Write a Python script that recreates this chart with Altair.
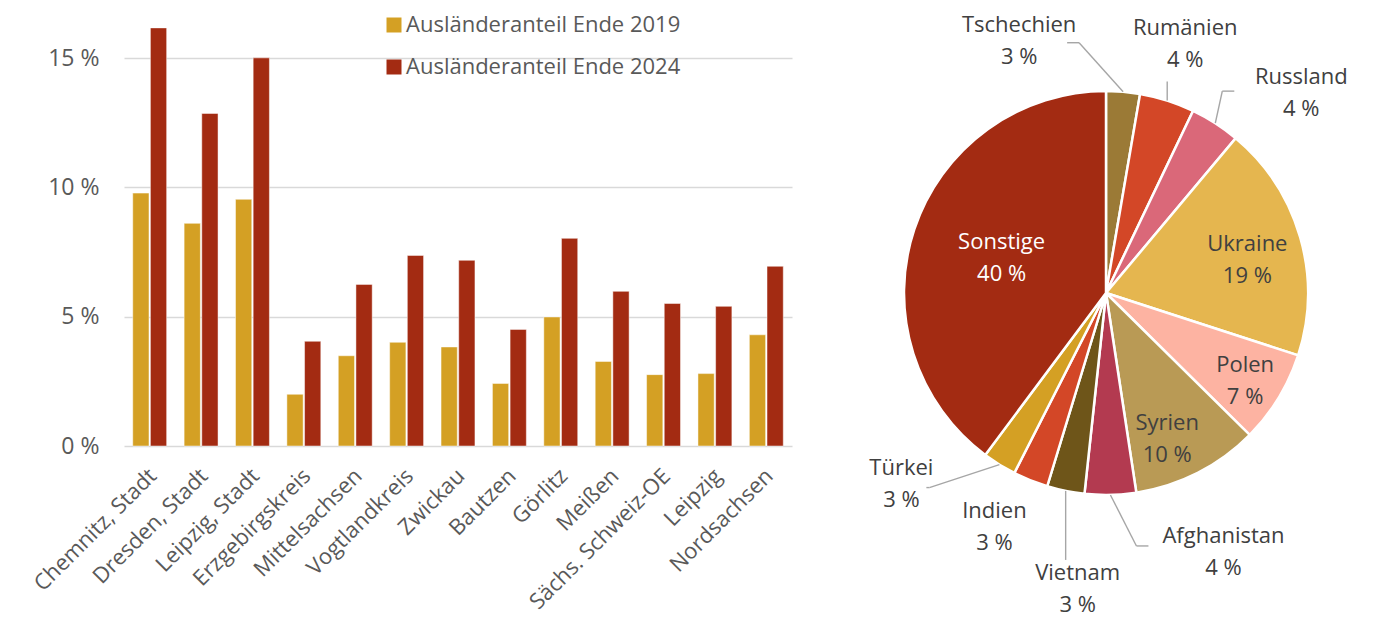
import altair as alt
import pandas as pd

# ---------------- data ----------------
kreise = ["Chemnitz, Stadt", "Dresden, Stadt", "Leipzig, Stadt", "Erzgebirgskreis",
          "Mittelsachsen", "Vogtlandkreis", "Zwickau", "Bautzen", "Görlitz", "Meißen",
          "Sächs. Schweiz-OE", "Leipzig", "Nordsachsen"]
anteil_2019 = [9.78, 8.61, 9.54, 2.0, 3.49, 4.01, 3.83, 2.42, 4.99, 3.27, 2.76, 2.80, 4.30]
anteil_2024 = [16.17, 12.86, 15.01, 4.05, 6.25, 7.37, 7.18, 4.51, 8.03, 5.98, 5.51, 5.40, 6.95]
serien = ["Ausländeranteil Ende 2019", "Ausländeranteil Ende 2024"]
serien_farben = ["#D4A024", "#A32B12"]
y_ticks = [0, 5, 10, 15]

laender = ["Tschechien", "Rumänien", "Russland", "Ukraine", "Polen", "Syrien",
           "Afghanistan", "Vietnam", "Indien", "Türkei", "Sonstige"]
anteile = [2.7, 4.4, 4.0, 18.9, 7.4, 10.2, 4.1, 3.0, 2.8, 2.7, 39.8]
laender_farben = ["#9B7A36", "#D34727", "#DA6879", "#E5B64F", "#FDB3A2", "#B99A55",
                  "#B33A50", "#6E5519", "#D34727", "#D4A024", "#A32B12"]

# ---------------- style / layout ----------------
FONT = "Open Sans"
GREY = "#595959"
DARK = "#404040"
LEAD = "#A6A6A6"

PIE_R = 202
CX, CY = 294, 284
LINE_H = 32
TOP_SHIFT = -11  # moving from a middle to a top text baseline

# label placement for the pie (layout only): r = radius of anchor, dx/dy nudges of the
# first text line, lead = leader-line points relative to the slice edge point
LABELS = {
    "Tschechien": dict(r=PIE_R, dx=-104, dy=-66, lead=[(-44, -49), (-56, -49)], color=DARK),
    "Rumänien": dict(r=PIE_R, dx=18, dy=-71, lead=[(0, -19)], color=DARK),
    "Russland": dict(r=PIE_R, dx=86, dy=-45, lead=[(7, -32), (19, -32)], color=DARK),
    "Ukraine": dict(r=145, dx=2, dy=-8, lead=[], color=DARK),
    "Polen": dict(r=164, dx=-1, dy=-12, lead=[], color=DARK),
    "Syrien": dict(r=159, dx=-11, dy=-11, lead=[], color=DARK),
    "Afghanistan": dict(r=PIE_R, dx=113, dy=42, lead=[(26, 51), (38, 51)], color=DARK),
    "Vietnam": dict(r=PIE_R, dx=12, dy=83, lead=[(0, 69)], color=DARK),
    "Indien": dict(r=PIE_R, dx=-36, dy=32, lead=[], color=DARK),
    "Türkei": dict(r=PIE_R, dx=-98, dy=4, lead=[(-70, 23), (-73, 23)], color=DARK),
    "Sonstige": dict(r=110, dx=0, dy=-15, lead=[], color="white"),
}

# ---------------- bar chart ----------------
bar_df = pd.DataFrame({
    "kreis": kreise * 2,
    "serie": [serien[0]] * len(kreise) + [serien[1]] * len(kreise),
    "wert": anteil_2019 + anteil_2024,
})

bars = alt.Chart(bar_df).mark_bar(stroke="white", strokeWidth=0.8, strokeOpacity=0.6).encode(
    x=alt.X("kreis:N", sort=kreise,
            scale=alt.Scale(paddingInner=0.34, paddingOuter=0.17),
            axis=alt.Axis(title=None, labelAngle=-45, labelAlign="right", labelBaseline="top",
                          labelFont=FONT, labelFontSize=22, labelColor=GREY,
                          ticks=False, domain=False, labelPadding=19, labelOffset=-4,
                          labelLimit=400)),
    xOffset=alt.XOffset("serie:N", sort=serien, scale=alt.Scale(paddingInner=0.08)),
    y=alt.Y("wert:Q", scale=alt.Scale(domain=[0, 16.9], nice=False),
            axis=alt.Axis(title=None, values=y_ticks, labelExpr="datum.value + ' %'",
                          grid=True, gridColor="#D9D9D9", gridWidth=1.5,
                          domain=False, ticks=False, labelFont=FONT, labelFontSize=23,
                          labelColor=GREY, labelPadding=25)),
    color=alt.Color("serie:N", sort=serien,
                    scale=alt.Scale(domain=serien, range=serien_farben),
                    legend=alt.Legend(title=None, orient="none", legendX=259, legendY=5,
                                      symbolType="square", symbolSize=225, symbolStrokeWidth=0,
                                      labelFont=FONT, labelFontSize=22, labelColor=GREY,
                                      rowPadding=20, labelOffset=1, labelLimit=400)),
).properties(width=668, height=437)

# ---------------- pie chart ----------------
pie_df = pd.DataFrame({"land": laender, "anteil": anteile, "order": list(range(len(laender)))})

base = (
    alt.Chart(pie_df)
    .transform_window(cum="sum(anteil)", sort=[alt.SortField("order")], frame=[None, 0])
    .transform_joinaggregate(total="sum(anteil)")
    .transform_calculate(a0="(datum.cum - datum.anteil) / datum.total * 2 * PI")
    .transform_calculate(a1="datum.cum / datum.total * 2 * PI")
    .transform_calculate(amid="(datum.a0 + datum.a1) / 2")
    .transform_calculate(label="datum.land + '\\n' + format(datum.anteil, '.0f') + ' %'")
    .transform_calculate(ex=f"{CX} + {PIE_R} * sin(datum.amid)")
    .transform_calculate(ey=f"{CY} - {PIE_R} * cos(datum.amid)")
)

arcs = base.mark_arc(radius=PIE_R, stroke="white", strokeWidth=2.5).encode(
    x=alt.value(CX), y=alt.value(CY),
    theta=alt.Theta("a0:Q", scale=None),
    theta2=alt.Theta2("a1"),
    color=alt.Color("land:N", scale=alt.Scale(domain=laender, range=laender_farben), legend=None),
)

layers = [arcs]
for name, cfg in LABELS.items():
    pts = [(0, 0)] + cfg["lead"]
    for (p0x, p0y), (p1x, p1y) in zip(pts[:-1], pts[1:]):
        seg = (
            base.transform_filter(alt.datum.land == name)
            .transform_calculate(sx1=f"datum.ex + ({p0x})", sy1=f"datum.ey + ({p0y})",
                                 sx2=f"datum.ex + ({p1x})", sy2=f"datum.ey + ({p1y})")
            .mark_rule(color=LEAD, strokeWidth=1.4)
            .encode(x=alt.X("sx1:Q", scale=None, axis=None),
                    y=alt.Y("sy1:Q", scale=None, axis=None),
                    x2=alt.X2("sx2"), y2=alt.Y2("sy2"))
        )
        layers.append(seg)

for name, cfg in LABELS.items():
    txt = (
        base.transform_filter(alt.datum.land == name)
        .mark_text(radius=cfg["r"], dx=cfg["dx"], dy=cfg["dy"] + TOP_SHIFT, lineBreak="\n",
                   lineHeight=LINE_H, font=FONT, fontSize=22, color=cfg["color"],
                   align="center", baseline="top")
        .encode(x=alt.value(CX), y=alt.value(CY),
                theta=alt.Theta("amid:Q", scale=None),
                text=alt.Text("label:N"))
    )
    layers.append(txt)

pie = alt.layer(*layers).properties(width=550, height=437)

chart = (
    alt.hconcat(bars, pie, spacing=20)
    .resolve_scale(color="independent")
    .properties(padding={"left": 21, "top": 1, "right": 0, "bottom": 12})
    .configure(font=FONT, background="white")
    .configure_view(stroke=None)
)

chart.save("out.html", embed_options={"renderer": "svg", "actions": False})
